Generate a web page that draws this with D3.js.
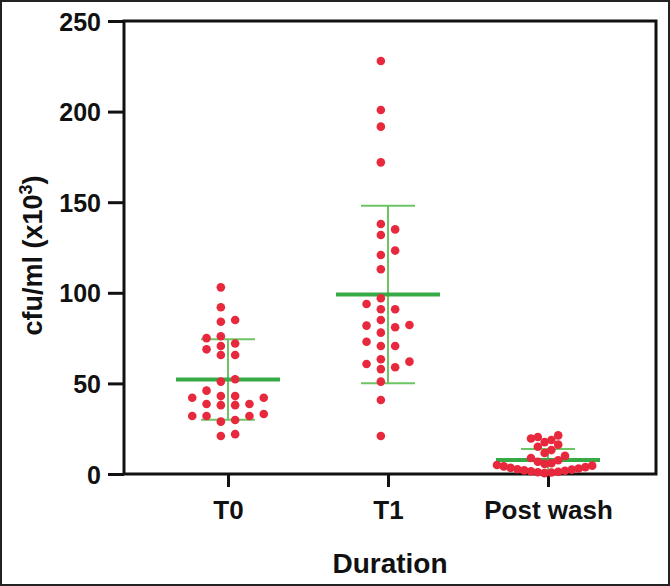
<!DOCTYPE html>
<html>
<head>
<meta charset="utf-8">
<script src="https://cdn.jsdelivr.net/npm/d3@7"></script>
<style>
  html, body { margin: 0; padding: 0; background: #fff; }
  svg { display: block; }
  text { font-family: "Liberation Sans", Arial, sans-serif; font-weight: bold; fill: #111; }
</style>
</head>
<body>
<svg id="chart" width="670" height="586"></svg>
<script>
// ---- data ----
const categories = ["T0", "T1", "Post wash"];
const t0Values = [103, 92, 85, 84, 76, 75, 72, 70.6, 68.8, 65.7, 65.7, 52.3, 51, 46, 43, 43,
                  42.1, 42.1, 38.6, 38.6, 38, 38, 33.1, 32, 32, 32, 29.8, 28.9, 22, 21];
const t1Values = [227.9, 200.9, 191.7, 172, 138, 135, 131.9, 123.3, 120.9, 113, 97, 93.8, 90.9, 90.9,
                  85, 82.2, 81.9, 81, 78, 73, 70.6, 70.6, 63.3, 62, 60.7, 58.9, 57.9, 51, 40.8, 21];
const postWashValues = [21.3, 20.4, 19.6, 18.8, 17.6, 16.2, 15.0, 13.2, 11.6, 10.0, 8.8, 7.6, 6.8, 6.0,
                        5.6, 5.0, 4.6, 4.2, 3.8, 3.4, 3.0, 2.6, 2.4, 2.0, 1.8, 1.5, 1.2, 1.0, 0.8, 0.5];
const groupMeans = [52.2, 99.1, 7.7];
const groupSDs = [22.2, 49.0, 6.1];
const yTicks = [0, 50, 100, 150, 200, 250];
const groups = [t0Values, t1Values, postWashValues];

// ---- layout ----
const W = 670, H = 586;
const plot = { left: 124, right: 656, top: 21, bottom: 474 };
const svg = d3.select("#chart");

const y = d3.scaleLinear().domain([0, 250]).range([plot.bottom, plot.top]);
const x = d3.scalePoint().domain(categories).range([plot.left, plot.right - 4]).padding(0.65);

// outer image frame
svg.append("rect").attr("x", 1).attr("y", 1).attr("width", W - 2).attr("height", H - 2)
  .attr("fill", "none").attr("stroke", "#222").attr("stroke-width", 2);

// Y axis
const yAxis = svg.append("g").attr("transform", `translate(${plot.left},0)`)
  .call(d3.axisLeft(y).tickValues(yTicks).tickSize(16).tickSizeOuter(0).tickPadding(7));
yAxis.select(".domain").remove();
yAxis.selectAll(".tick line").attr("stroke", "#111").attr("stroke-width", 3);
yAxis.selectAll(".tick text").style("font-size", "25px").attr("dy", "0.36em");

// X axis
const xAxis = svg.append("g").attr("transform", `translate(0,${plot.bottom})`)
  .call(d3.axisBottom(x).tickSize(13).tickSizeOuter(0).tickPadding(12));
xAxis.select(".domain").remove();
xAxis.selectAll(".tick line").attr("stroke", "#111").attr("stroke-width", 3);
xAxis.selectAll(".tick text").style("font-size", "26px").attr("dy", "0.75em");

// plot frame
svg.append("rect").attr("x", plot.left).attr("y", plot.top)
  .attr("width", plot.right - plot.left).attr("height", plot.bottom - plot.top)
  .attr("fill", "none").attr("stroke", "#111").attr("stroke-width", 3);

// axis titles
svg.append("text").attr("x", (plot.left + plot.right) / 2).attr("y", 573)
  .attr("text-anchor", "middle").style("font-size", "28px").text("Duration");

const yt = svg.append("text")
  .attr("transform", `translate(42,${(plot.top + plot.bottom) / 2 + 8}) rotate(-90)`)
  .attr("text-anchor", "middle").style("font-size", "27px");
yt.append("tspan").text("cfu/ml (x10");
yt.append("tspan").attr("dy", -10).style("font-size", "18px").text("3");
yt.append("tspan").attr("dy", 10).text(")");

// ---- beeswarm layout ----
function swarm(values, spacing, minDy, maxHalf) {
  const pts = values.map(v => ({ v, py: y(v) })).sort((a, b) => a.v - b.v);
  const placed = [];
  pts.forEach(p => {
    for (let k = 0; k < 40; k++) {
      const slot = (k % 2 === 0 ? -1 : 1) * (Math.floor(k / 2) + 0.5);
      const clash = placed.some(q => q.slot === slot && Math.abs(q.py - p.py) < minDy);
      if (!clash) { p.slot = slot; placed.push(p); break; }
    }
  });
  const maxAbs = d3.max(placed, p => Math.abs(p.slot)) * spacing;
  const f = maxAbs > maxHalf ? maxHalf / maxAbs : 1;
  placed.forEach(p => p.dx = p.slot * spacing * f);
  return placed;
}

const meanColor = "#35aa45", sdColor = "#6cc463", dotColor = "#e8283c";
const meanHalf = 52, capHalf = 27;

groups.forEach((vals, i) => {
  const cx = x(categories[i]);
  const m = groupMeans[i], s = groupSDs[i];
  const g = svg.append("g");
  // SD whiskers
  g.append("line").attr("x1", cx).attr("x2", cx).attr("y1", y(m + s)).attr("y2", y(m - s))
    .attr("stroke", sdColor).attr("stroke-width", 2);
  [m + s, m - s].forEach(v => {
    g.append("line").attr("x1", cx - capHalf).attr("x2", cx + capHalf).attr("y1", y(v)).attr("y2", y(v))
      .attr("stroke", sdColor).attr("stroke-width", 2);
  });
  // mean
  g.append("line").attr("x1", cx - meanHalf).attr("x2", cx + meanHalf).attr("y1", y(m)).attr("y2", y(m))
    .attr("stroke", meanColor).attr("stroke-width", 4);
  // dots
  const pts = swarm(vals, 14.3, 8.5, 51);
  g.selectAll("circle").data(pts).join("circle")
    .attr("cx", d => cx + d.dx).attr("cy", d => d.py).attr("r", 4.3)
    .attr("fill", dotColor);
});
</script>
</body>
</html>
